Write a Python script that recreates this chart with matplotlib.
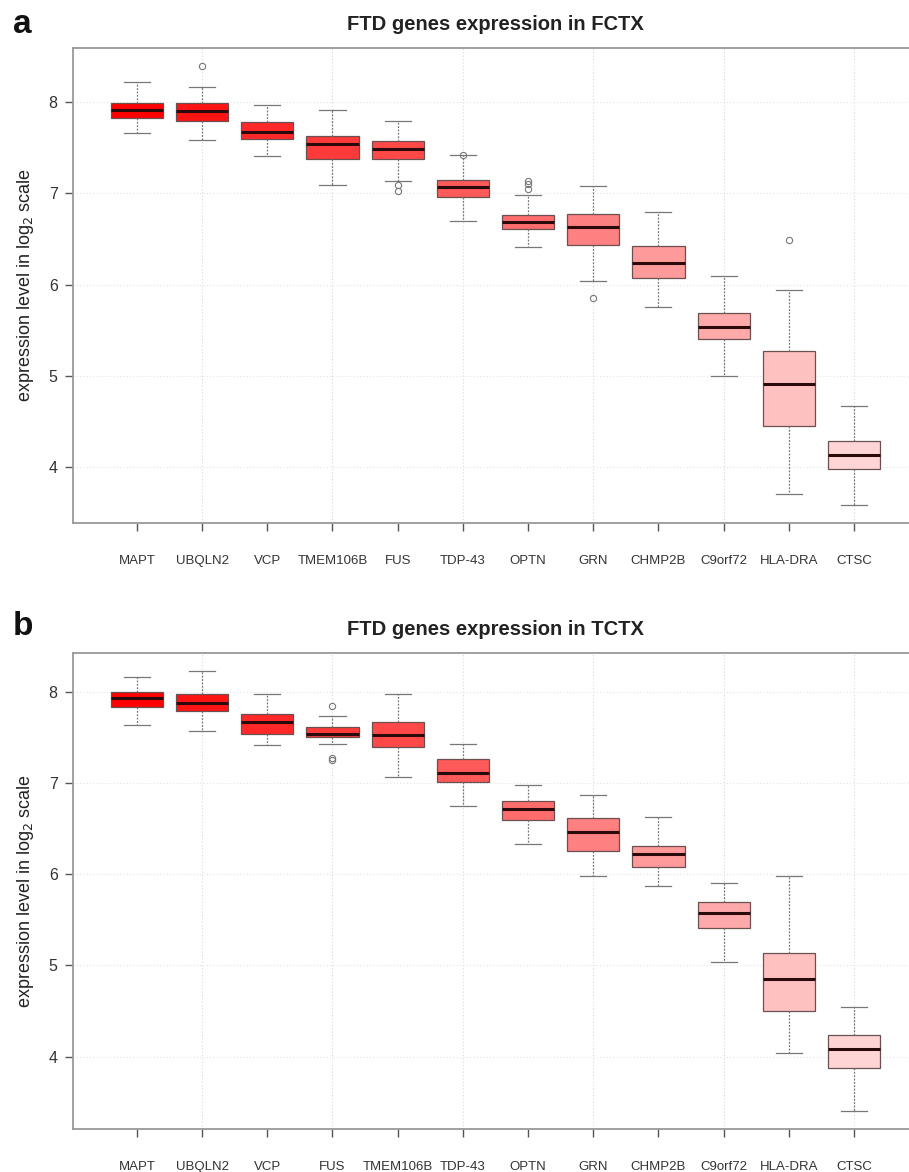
import matplotlib
matplotlib.use("Agg")
import matplotlib.pyplot as plt

plt.rcParams["font.family"] = ["Liberation Sans", "DejaVu Sans"]

# panel a: frontal cortex
genes_fctx = ["MAPT", "UBQLN2", "VCP", "TMEM106B", "FUS", "TDP-43",
              "OPTN", "GRN", "CHMP2B", "C9orf72", "HLA-DRA", "CTSC"]
fctx_whislo = [7.66, 7.58, 7.41, 7.09, 7.13, 6.70, 6.41, 6.04, 5.75, 5.00, 3.70, 3.58]
fctx_q1 = [7.83, 7.79, 7.59, 7.38, 7.38, 6.96, 6.61, 6.43, 6.07, 5.40, 4.45, 3.98]
fctx_med = [7.91, 7.90, 7.67, 7.54, 7.49, 7.07, 6.69, 6.63, 6.24, 5.54, 4.91, 4.13]
fctx_q3 = [7.99, 7.99, 7.78, 7.63, 7.57, 7.15, 6.76, 6.77, 6.42, 5.69, 5.27, 4.29]
fctx_whishi = [8.22, 8.16, 7.97, 7.91, 7.79, 7.42, 6.98, 7.08, 6.79, 6.09, 5.94, 4.67]
fctx_fliers = [[], [8.40], [], [], [7.09, 7.03], [7.42], [7.14, 7.10, 7.05],
               [5.85], [], [], [6.49], []]

# panel b: temporal cortex
genes_tctx = ["MAPT", "UBQLN2", "VCP", "FUS", "TMEM106B", "TDP-43",
              "OPTN", "GRN", "CHMP2B", "C9orf72", "HLA-DRA", "CTSC"]
tctx_whislo = [7.63, 7.57, 7.41, 7.43, 7.07, 6.75, 6.33, 5.98, 5.87, 5.04, 4.04, 3.40]
tctx_q1 = [7.83, 7.79, 7.54, 7.50, 7.39, 7.01, 6.59, 6.25, 6.08, 5.41, 4.50, 3.87]
tctx_med = [7.93, 7.88, 7.67, 7.54, 7.53, 7.11, 6.71, 6.46, 6.22, 5.57, 4.85, 4.08]
tctx_q3 = [8.00, 7.97, 7.75, 7.61, 7.67, 7.26, 6.80, 6.62, 6.31, 5.69, 5.14, 4.24]
tctx_whishi = [8.16, 8.23, 7.97, 7.73, 7.97, 7.43, 6.98, 6.87, 6.63, 5.90, 5.98, 4.54]
tctx_fliers = [[], [], [], [7.84, 7.27, 7.25], [], [], [], [], [], [], [], []]

box_colors = ["#ff0000", "#ff1414", "#ff2828", "#ff3a3a", "#ff4848", "#ff5a5a",
              "#ff6c6c", "#ff8080", "#ff9a9a", "#ffaaaa", "#ffc0c0", "#ffd4d4"]


def draw_panel(ax, genes, whislo, q1, med, q3, whishi, fliers, title):
    stats = []
    for i in range(len(genes)):
        stats.append({"whislo": whislo[i], "q1": q1[i], "med": med[i],
                      "q3": q3[i], "whishi": whishi[i], "fliers": fliers[i]})
    pos = list(range(1, len(genes) + 1))

    # light dotted grid behind the boxes
    for x in pos[1::2]:
        ax.axvline(x, color="#d8d8d8", lw=0.8, ls=(0, (1, 2)), zorder=0)
    for y in range(4, 9):
        ax.axhline(y, color="#e4e4e4", lw=0.8, ls=(0, (1, 2)), zorder=0)

    art = ax.bxp(stats, positions=pos, widths=0.8, patch_artist=True,
                 showfliers=True,
                 boxprops=dict(edgecolor="#6a5050", linewidth=0.9),
                 medianprops=dict(color="#2a0a0a", linewidth=2.2),
                 whiskerprops=dict(color="#777777", linewidth=0.9, linestyle=(0, (1.5, 1.2))),
                 capprops=dict(color="#777777", linewidth=0.9),
                 capwidths=0.4,
                 flierprops=dict(marker="o", markersize=4.5, markerfacecolor="none",
                                 markeredgecolor="#777777", markeredgewidth=0.8))
    for patch, c in zip(art["boxes"], box_colors):
        patch.set_facecolor(c)

    ax.set_xlim(0.02, 12.98)
    all_lo = min(whislo + [v for f in fliers for v in f])
    all_hi = max(whishi + [v for f in fliers for v in f])
    pad = (all_hi - all_lo) * 0.04
    ax.set_ylim(all_lo - pad, all_hi + pad)
    ax.set_xticks(pos)
    ax.set_xticklabels(genes, fontsize=9.5, color="#333333")
    ax.set_yticks([4, 5, 6, 7, 8])
    ax.tick_params(axis="y", labelsize=11.5, colors="#555555", labelcolor="#333333",
                   length=6, width=1, direction="out", pad=5)
    ax.tick_params(axis="x", colors="#555555", labelcolor="#333333",
                   length=6, width=1, direction="out", pad=17)
    for s in ax.spines.values():
        s.set_color("#999999")
        s.set_linewidth(1.3)
    ax.set_ylabel("expression level in log$_2$ scale", fontsize=13, color="#222222",
                  labelpad=9)
    ax.set_title(title, fontsize=14.5, fontweight="bold", color="#222222", pad=13)


fig = plt.figure(figsize=(9.09, 11.72), dpi=100)
ax_a = fig.add_axes([0.0803, 0.5538, 0.9295, 0.4053])
ax_b = fig.add_axes([0.0803, 0.0367, 0.9295, 0.4061])

draw_panel(ax_a, genes_fctx, fctx_whislo, fctx_q1, fctx_med, fctx_q3,
           fctx_whishi, fctx_fliers, "FTD genes expression in FCTX")
draw_panel(ax_b, genes_tctx, tctx_whislo, tctx_q1, tctx_med, tctx_q3,
           tctx_whishi, tctx_fliers, "FTD genes expression in TCTX")

fig.text(13 / 909, 1 - 33 / 1172, "a", fontsize=24, fontweight="bold",
         color="#111111", va="baseline", ha="left")
fig.text(13 / 909, 1 - 635 / 1172, "b", fontsize=24, fontweight="bold",
         color="#111111", va="baseline", ha="left")

fig.savefig("out.png", dpi=100)
